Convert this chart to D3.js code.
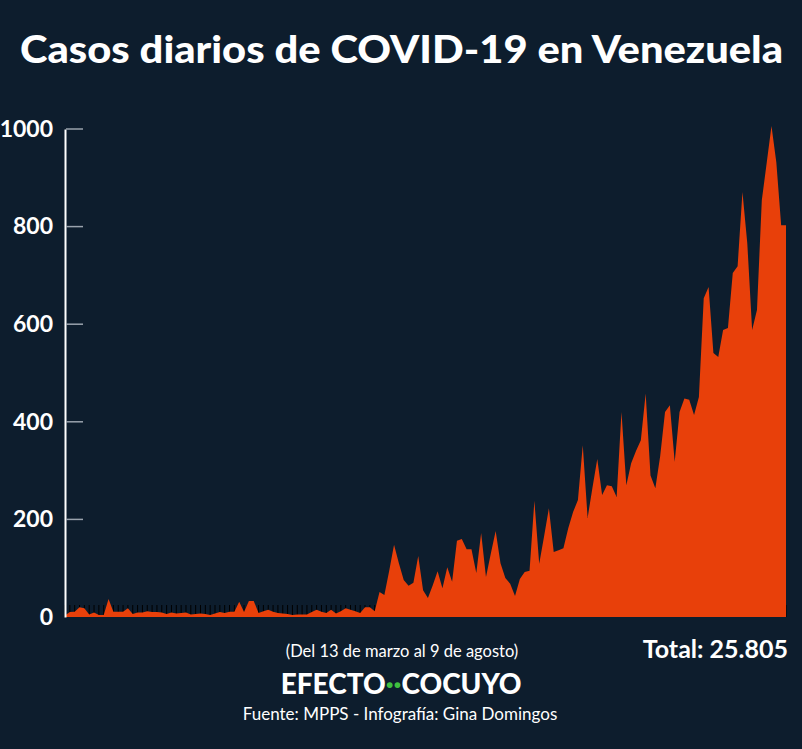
<html>
  <head>
    <script src="https://cdnjs.cloudflare.com/ajax/libs/d3/7.8.5/d3.min.js"></script>
    <style>
      body { margin: 0; background-color: #0d1d2d; }
      svg text { font-family: Lato, 'Open Sans', sans-serif; fill: white; }
    </style>
  </head>
  <body>
    <svg id="chart" width="802" height="749"></svg>
  </body>
  <script>

// casos diarios, 13 de marzo al 9 de agosto (150 días)
const casos = [
  3,10,11,20,18,5,9,4,4,37, 11,11,11,18,6,9,9,12,10,10,
  9,6,9,7,8,9,5,6,7,6, 4,7,10,8,11,11,31,10,33,33,
  8,12,15,11,8,7,6,4,5,5, 5,10,15,11,8,15,7,12,18,15,
  12,8,20,20,12,51,45,95,148,110, 76,64,70,125,55,39,65,94,59,102,
  72,156,160,139,139,90,172,82,130,176, 110,80,68,43,78,92,95,238,109,165,
  223,133,137,141,182,215,240,352,203,265, 324,250,270,268,246,420,270,315,340,362,
  458,290,264,330,420,434,318,420,448,445, 414,451,653,676,541,533,588,592,705,719,
  871,766,588,629,854,930,1006,932,803,803
]

const svg = d3.select('#chart')
svg.append('rect').attr('width', 802).attr('height', 749).attr('fill', '#0d1d2d')

const x = d3.scaleLinear().domain([0, casos.length - 1]).range([65, 786])
const y = d3.scaleLinear().domain([0, 1000]).range([617, 129])

// título
svg.append('text')
  .attr('x', 20).attr('y', 63)
  .attr('textLength', 763).attr('lengthAdjust', 'spacingAndGlyphs')
  .style('font-size', '38px').style('font-weight', 900)
  .text('Casos diarios de COVID-19 en Venezuela')

// marcas diarias oscuras sobre la base
svg.append('g')
  .selectAll('line')
  .data(casos)
  .join('line')
  .attr('x1', (d, i) => x(i)).attr('x2', (d, i) => x(i))
  .attr('y1', y(0)).attr('y2', y(0) - 12)
  .attr('stroke', '#000').attr('stroke-width', 1)

// área
const area = d3.area()
  .x((d, i) => x(i))
  .y0(y(0))
  .y1((d) => y(d))

svg.append('path')
  .datum(casos)
  .attr('d', area)
  .attr('fill', '#e8400a')

// eje y
const yAxis = svg.append('g')
  .attr('transform', 'translate(65,0)')
  .call(d3.axisLeft(y).tickValues([0, 200, 400, 600, 800, 1000]).tickFormat(d3.format('d')).tickSize(0).tickPadding(12))
yAxis.select('.domain').attr('stroke', 'white').attr('stroke-width', 2)
yAxis.selectAll('text').style('font-size', '23px').style('font-weight', 700).attr('fill', 'white')
svg.append('g')
  .selectAll('line')
  .data([200, 400, 600, 800, 1000])
  .join('line')
  .attr('x1', 66).attr('x2', 83)
  .attr('y1', (d) => y(d)).attr('y2', (d) => y(d))
  .attr('stroke', '#9aa3ad').attr('stroke-width', 1.5)

// textos inferiores
svg.append('text')
  .attr('x', 402).attr('y', 657).attr('text-anchor', 'middle')
  .style('font-size', '16.5px')
  .text('(Del 13 de marzo al 9 de agosto)')

svg.append('text')
  .attr('x', 788).attr('y', 658).attr('text-anchor', 'end')
  .style('font-size', '25px').style('font-weight', 700)
  .text('Total: 25.805')

const logo = svg.append('text')
  .attr('x', 401).attr('y', 694).attr('text-anchor', 'middle')
  .style('font-size', '28px').style('font-weight', 900)
logo.append('tspan').text('EFECTO')
logo.append('tspan').style('fill', '#3fbf3f').text('··')
logo.append('tspan').text('COCUYO')

svg.append('text')
  .attr('x', 400).attr('y', 720).attr('text-anchor', 'middle')
  .style('font-size', '17px')
  .text('Fuente: MPPS - Infografía: Gina Domingos')

  </script>
</html>
